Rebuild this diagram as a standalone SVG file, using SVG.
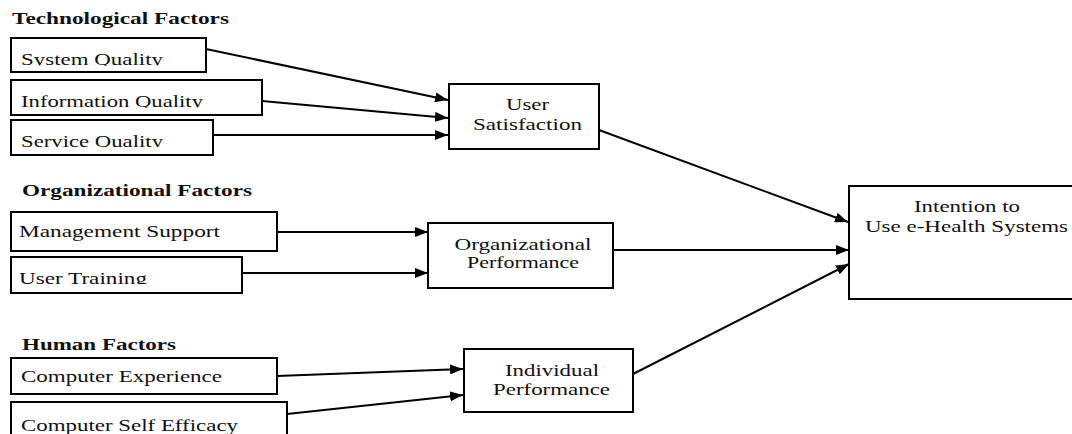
<svg xmlns="http://www.w3.org/2000/svg" width="1072" height="434" viewBox="0 0 1072 434">
  <style>
    .box { fill: #ffffff; stroke: #000000; stroke-width: 2; }
    .lbl { font-family: "Liberation Serif", "Times New Roman", serif; font-size: 17.5px; fill: #111111; }
    .ttl { font-family: "Liberation Serif", "Times New Roman", serif; font-size: 17px; font-weight: bold; fill: #111111; }
    .mid { text-anchor: middle; }
    .edge { stroke: #000000; stroke-width: 2; fill: none; marker-end: url(#arrow); }
    .plain { stroke: #000000; stroke-width: 2; fill: none; }
  </style>
  <defs>
    <marker id="arrow" markerUnits="userSpaceOnUse" markerWidth="14" markerHeight="10" refX="13" refY="5" orient="auto">
      <path d="M0,0 L13,5 L0,10 z" fill="#000000"/>
    </marker>
    <!-- label text areas that cut the text at its baseline -->
    <clipPath id="clipSys"><rect x="11" y="38" width="195" height="27.5"/></clipPath>
    <clipPath id="clipInfo"><rect x="11" y="80" width="251" height="27.5"/></clipPath>
    <clipPath id="clipServ"><rect x="11" y="120" width="202" height="27"/></clipPath>
    <clipPath id="clipTrain"><rect x="11" y="257" width="231" height="27"/></clipPath>
  </defs>

  <rect width="1072" height="434" fill="#ffffff"/>

  <!-- group headings -->
  <text class="ttl" x="12" y="24" textLength="217" lengthAdjust="spacingAndGlyphs">Technological Factors</text>
  <text class="ttl" x="22" y="196" textLength="230" lengthAdjust="spacingAndGlyphs">Organizational Factors</text>
  <text class="ttl" x="22" y="350" textLength="154" lengthAdjust="spacingAndGlyphs">Human Factors</text>

  <!-- connectors -->
  <g id="connectors">
    <line class="edge" x1="206" y1="49" x2="448" y2="100"/>
    <line class="edge" x1="262" y1="101" x2="448" y2="118"/>
    <line class="edge" x1="213" y1="135" x2="448" y2="135"/>
    <line class="edge" x1="277" y1="232" x2="428" y2="232"/>
    <line class="edge" x1="242" y1="273" x2="428" y2="273"/>
    <line class="edge" x1="277" y1="376" x2="463" y2="369"/>
    <line class="edge" x1="287" y1="414" x2="463" y2="395"/>
    <line class="edge" x1="599" y1="130" x2="848" y2="222"/>
    <line class="edge" x1="613" y1="250" x2="849" y2="250"/>
    <line class="edge" x1="633" y1="374" x2="849" y2="264"/>
  </g>

  <!-- technological factors -->
  <g id="system-quality">
    <rect class="box" x="11" y="38" width="195" height="34"/>
    <text class="lbl" x="21" y="65" textLength="142" lengthAdjust="spacingAndGlyphs" clip-path="url(#clipSys)">System Quality</text>
  </g>
  <g id="information-quality">
    <rect class="box" x="11" y="80" width="251" height="35"/>
    <text class="lbl" x="21" y="107" textLength="182" lengthAdjust="spacingAndGlyphs" clip-path="url(#clipInfo)">Information Quality</text>
  </g>
  <g id="service-quality">
    <rect class="box" x="11" y="120" width="202" height="35"/>
    <text class="lbl" x="21" y="146.5" textLength="142" lengthAdjust="spacingAndGlyphs" clip-path="url(#clipServ)">Service Quality</text>
  </g>

  <!-- organizational factors -->
  <g id="management-support">
    <rect class="box" x="11" y="212" width="266" height="39"/>
    <text class="lbl" x="19" y="237" textLength="201" lengthAdjust="spacingAndGlyphs">Management Support</text>
  </g>
  <g id="user-training">
    <rect class="box" x="11" y="257" width="231" height="36"/>
    <text class="lbl" x="19" y="284" textLength="128" lengthAdjust="spacingAndGlyphs" clip-path="url(#clipTrain)">User Training</text>
  </g>

  <!-- human factors -->
  <g id="computer-experience">
    <rect class="box" x="11" y="358" width="266" height="36"/>
    <text class="lbl" x="21" y="382" textLength="201" lengthAdjust="spacingAndGlyphs">Computer Experience</text>
  </g>
  <g id="computer-self-efficacy">
    <rect class="box" x="11" y="402" width="276" height="50"/>
    <text class="lbl" x="21" y="431" textLength="217" lengthAdjust="spacingAndGlyphs">Computer Self Efficacy</text>
  </g>

  <!-- mediating constructs -->
  <g id="user-satisfaction">
    <rect class="box" x="449" y="84" width="150" height="65"/>
    <text class="lbl mid" x="527.5" y="110" textLength="43" lengthAdjust="spacingAndGlyphs">User</text>
    <text class="lbl mid" x="527.5" y="130" textLength="109" lengthAdjust="spacingAndGlyphs">Satisfaction</text>
  </g>
  <g id="organizational-performance">
    <rect class="box" x="428" y="223" width="185" height="65"/>
    <text class="lbl mid" x="523" y="250" textLength="137" lengthAdjust="spacingAndGlyphs">Organizational</text>
    <text class="lbl mid" x="523" y="268" textLength="112" lengthAdjust="spacingAndGlyphs">Performance</text>
  </g>
  <g id="individual-performance">
    <rect class="box" x="464" y="349" width="169" height="63"/>
    <text class="lbl mid" x="552" y="376" textLength="94" lengthAdjust="spacingAndGlyphs">Individual</text>
    <text class="lbl mid" x="551.5" y="395" textLength="117" lengthAdjust="spacingAndGlyphs">Performance</text>
  </g>

  <!-- outcome -->
  <g id="intention-to-use">
    <rect class="box" x="849" y="186" width="240" height="113"/>
    <text class="lbl mid" x="967" y="212" textLength="106" lengthAdjust="spacingAndGlyphs">Intention to</text>
    <text class="lbl mid" x="966.5" y="232" textLength="203" lengthAdjust="spacingAndGlyphs">Use e-Health Systems</text>
  </g>
</svg>
